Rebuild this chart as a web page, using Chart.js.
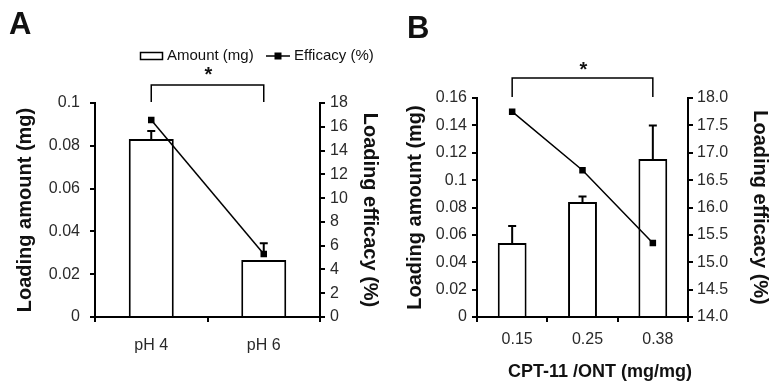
<!DOCTYPE html>
<html><head><meta charset="utf-8">
<script src="https://cdn.jsdelivr.net/npm/chart.js@4.4.1/dist/chart.umd.min.js"></script>
<style>
html,body{margin:0;padding:0;background:#fff;}
#wrap{position:relative;width:778px;height:390px;overflow:hidden;background:#fff}
canvas{position:absolute;top:0}
#ca{left:0}
#cb{left:390px}
</style></head><body>
<div id="wrap"><canvas id="ca" width="390" height="390"></canvas><canvas id="cb" width="388" height="390"></canvas></div>
<script>
// ---- Panel A data ----
const catsA = ['pH 4', 'pH 6'];
const amountA = [0.0832, 0.0266];
const amountErrA = [0.0037, null];
const efficacyA = [16.57, 5.3];
const efficacyErrA = [null, 0.9];
// ---- Panel B data ----
const catsB = ['0.15', '0.25', '0.38'];
const amountB = [0.054, 0.084, 0.1154];
const amountErrB = [0.0125, 0.004, 0.0246];
const efficacyB = [17.75, 16.68, 15.35];
const efficacyErrB = [null, null, null];
// ---- labels ----
const amountLabel = 'Amount (mg)';
const efficacyLabel = 'Efficacy (%)';
const yLeftTitle = 'Loading amount (mg)';
const yRightTitle = 'Loading efficacy (%)';
const xTitleB = 'CPT-11 /ONT (mg/mg)';

const FONT = "'Liberation Sans', Arial, Helvetica, sans-serif";
const INK = '#111';
const TICK = '#2a2a2a';

const decor = {
  id: 'decor',
  afterDatasetsDraw(chart, args, o) {
    const ctx = chart.ctx, x = chart.scales.x, ca = chart.chartArea;
    ctx.save();
    ctx.strokeStyle = '#000';
    // error bars
    (o.errors || []).forEach(e => {
      const meta = chart.getDatasetMeta(e.ds);
      const sc = chart.scales[meta.yAxisID];
      const vals = chart.data.datasets[e.ds].data;
      e.err.forEach((d, i) => {
        if (d == null) return;
        const px = x.getPixelForValue(i);
        const y0 = sc.getPixelForValue(vals[i]);
        const y1 = sc.getPixelForValue(vals[i] + d);
        ctx.lineWidth = 2;
        ctx.beginPath();
        ctx.moveTo(px, y0); ctx.lineTo(px, y1);
        ctx.moveTo(px - 4, y1); ctx.lineTo(px + 4, y1);
        ctx.stroke();
      });
    });
    // significance bracket
    if (o.bracket) {
      const bx0 = x.getPixelForValue(o.bracket.from);
      const bx1 = x.getPixelForValue(o.bracket.to);
      const by = ca.top - o.bracket.rise, byEnd = ca.top - 1;
      ctx.lineWidth = 1.5;
      ctx.beginPath();
      ctx.moveTo(bx0, byEnd); ctx.lineTo(bx0, by); ctx.lineTo(bx1, by); ctx.lineTo(bx1, byEnd);
      ctx.stroke();
      ctx.fillStyle = INK;
      ctx.font = 'bold 20px ' + FONT;
      ctx.textAlign = 'center';
      ctx.textBaseline = 'alphabetic';
      ctx.fillText('*', (bx0 + bx1) / 2 + 1, by + o.bracket.starDy);
    }
    // panel letter
    if (o.letter) {
      ctx.fillStyle = INK;
      ctx.font = 'bold 31px ' + FONT;
      ctx.textAlign = 'left';
      ctx.textBaseline = 'alphabetic';
      ctx.fillText(o.letter.text, o.letter.x, o.letter.y);
    }
    // x title
    if (o.xTitle) {
      ctx.fillStyle = INK;
      ctx.font = 'bold 18px ' + FONT;
      ctx.textAlign = 'center';
      ctx.textBaseline = 'middle';
      ctx.fillText(o.xTitle.text, o.xTitle.x, o.xTitle.y);
    }
    // legend
    if (o.legend) {
      const L = o.legend;
      const ds = chart.data.datasets;
      ctx.fillStyle = INK;
      ctx.font = '15px ' + FONT;
      ctx.textAlign = 'left';
      ctx.textBaseline = 'middle';
      ctx.lineWidth = 1.5;
      ctx.strokeStyle = '#000';
      ctx.strokeRect(L.x + 0.5, L.y - 3.5, 22, 7);
      ctx.fillText(ds[1].label, L.x + 27, L.y);
      const lx = L.x + 126;
      ctx.lineWidth = 1.5;
      ctx.beginPath(); ctx.moveTo(lx, L.y); ctx.lineTo(lx + 24, L.y); ctx.stroke();
      ctx.fillStyle = '#000';
      ctx.fillRect(lx + 8.5, L.y - 3.5, 7, 7);
      ctx.fillStyle = INK;
      ctx.fillText(ds[0].label, lx + 28, L.y);
    }
    ctx.restore();
  }
};

function makeChart(id, cats, amount, efficacy, cfg) {
  return new Chart(document.getElementById(id), {
    data: {
      labels: cats,
      datasets: [
        {
          type: 'line', label: efficacyLabel, data: efficacy, yAxisID: 'y2', order: 0,
          borderColor: '#000', borderWidth: 1.5, backgroundColor: '#000',
          pointStyle: 'rect', pointRadius: 4.6, pointBorderWidth: 0, tension: 0
        },
        {
          type: 'bar', label: amountLabel, data: amount, yAxisID: 'y', order: 1,
          backgroundColor: '#fff', borderColor: '#000', borderWidth: 2,
          categoryPercentage: 1, barPercentage: cfg.barPct
        }
      ]
    },
    options: {
      responsive: false, animation: false,
      layout: { padding: { top: cfg.top, left: 0, right: 0, bottom: 0 } },
      plugins: {
        legend: { display: false }, tooltip: { enabled: false },
        decor: cfg.decor
      },
      scales: {
        x: {
          afterFit: s => { s.height = 390 - cfg.bottom; },
          grid: { display: true, drawOnChartArea: false, drawTicks: true, tickLength: 5, color: '#000', lineWidth: 2, offset: true },
          border: { display: true, color: '#000', width: 2 },
          ticks: { color: TICK, font: { family: FONT, size: 16 }, padding: cfg.xPad, labelOffset: cfg.xLabelOffset, maxRotation: 0 }
        },
        y: {
          position: 'left', min: 0, max: cfg.yMax,
          afterFit: s => { s.width = cfg.left; },
          grid: { display: true, drawOnChartArea: false, drawTicks: true, tickLength: 5, color: '#000', lineWidth: 2 },
          border: { display: true, color: '#000', width: 2 },
          ticks: { stepSize: cfg.yStep, color: TICK, font: { family: FONT, size: 16 }, padding: cfg.yPad,
                   callback: v => String(+Number(v).toFixed(2)) },
          title: { display: true, text: yLeftTitle, color: INK, font: { family: FONT, size: 20, weight: 'bold' }, padding: { top: cfg.yTitlePad, bottom: 0 } }
        },
        y2: {
          position: 'right', min: cfg.y2Min, max: cfg.y2Max,
          afterFit: s => { s.width = cfg.canvasW - cfg.right; },
          grid: { display: true, drawOnChartArea: false, drawTicks: true, tickLength: 5, color: '#000', lineWidth: 2 },
          border: { display: true, color: '#000', width: 2 },
          ticks: { stepSize: cfg.y2Step, color: TICK, font: { family: FONT, size: 16 }, padding: cfg.y2Pad, callback: cfg.y2Fmt },
          title: { display: true, text: yRightTitle, color: INK, font: { family: FONT, size: 20, weight: 'bold' }, padding: { top: cfg.y2TitlePad, bottom: 0 } }
        }
      }
    },
    plugins: [decor]
  });
}

makeChart('ca', catsA, amountA, efficacyA, {
  barPct: 0.4, top: 103, bottom: 317, left: 95, right: 320, canvasW: 390,
  xPad: 14, xLabelOffset: 0, yMax: 0.1, yStep: 0.02, yPad: 10, yTitlePad: 13,
  y2Min: 0, y2Max: 18, y2Step: 2, y2Pad: 5, y2TitlePad: 8, y2Fmt: v => String(v),
  decor: {
    errors: [{ ds: 1, err: amountErrA }, { ds: 0, err: efficacyErrA }],
    bracket: { from: 0, to: 1, rise: 18, starDy: -4 },
    letter: { text: 'A', x: 9, y: 34 },
    legend: { x: 140, y: 56 }
  }
});

makeChart('cb', catsB, amountB, efficacyB, {
  barPct: 0.41, top: 98, bottom: 317, left: 87, right: 298, canvasW: 388,
  xPad: 8, xLabelOffset: 5, yMax: 0.16, yStep: 0.02, yPad: 5, yTitlePad: 13,
  y2Min: 14, y2Max: 18, y2Step: 0.5, y2Pad: 4, y2TitlePad: 6, y2Fmt: v => Number(v).toFixed(1),
  decor: {
    errors: [{ ds: 1, err: amountErrB }, { ds: 0, err: efficacyErrB }],
    bracket: { from: 0, to: 2, rise: 20, starDy: -2 },
    letter: { text: 'B', x: 17, y: 38 },
    xTitle: { text: xTitleB, x: 210, y: 372 }
  }
});
</script>
</body></html>
